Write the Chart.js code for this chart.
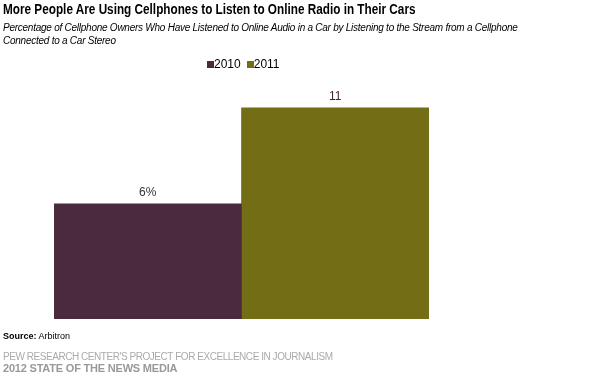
<!DOCTYPE html>
<html>
<head>
<meta charset="utf-8">
<script src="https://cdn.jsdelivr.net/npm/chart.js@4/dist/chart.umd.min.js"></script>
<style>
  body { margin: 0; background: #fff; font-family: "Liberation Sans", Arial, sans-serif; }
  #wrap { position: relative; width: 589px; height: 380px; overflow: hidden; }
  #chart { position: absolute; left: 0; top: 0; }
  .txt { position: absolute; left: 3px; white-space: nowrap; }
  #title { top: 0.5px; font-size: 14px; font-weight: bold; color: #000; transform: scaleX(0.84); transform-origin: 0 0; }
  #subtitle { top: 21px; font-size: 10px; font-style: italic; color: #000; line-height: 13px; letter-spacing: -0.25px; }
  #legend { position: absolute; top: 57px; left: 207px; font-size: 12px; color: #000; }
  #legend span.box { display: inline-block; width: 7px; height: 7px; margin-right: 0; vertical-align: 0; }
  #legend span.item { margin-right: 6px; }
  #source { top: 331px; font-size: 9px; color: #000; }
  #pew { top: 350.5px; font-size: 10px; color: #aaa; letter-spacing: -0.45px; }
  #sotnm { top: 362px; font-size: 11px; font-weight: bold; color: #999; letter-spacing: -0.2px; }
</style>
</head>
<body>
<div id="wrap">
  <canvas id="chart" width="589" height="380"></canvas>
  <div class="txt" id="title">More People Are Using Cellphones to Listen to Online Radio in Their Cars</div>
  <div class="txt" id="subtitle">Percentage of Cellphone Owners Who Have Listened to Online Audio in a Car by Listening to the Stream from a Cellphone<br>Connected to a Car Stereo</div>
  <div id="legend"></div>
  <div class="txt" id="source"><b>Source:</b> Arbitron</div>
  <div class="txt" id="pew">PEW RESEARCH CENTER'S PROJECT FOR EXCELLENCE IN JOURNALISM</div>
  <div class="txt" id="sotnm">2012 STATE OF THE NEWS MEDIA</div>
</div>
<script>
const categories = [''];
const seriesNames = ['2010', '2011'];
const values2010 = [6];
const values2011 = [11];
const valueLabels = ['6%', '11'];
const seriesColors = ['#4b2a3e', '#736d15'];
const labelColors = ['#333333', '#3d1f3a'];

// legend as html
const legend = document.getElementById('legend');
seriesNames.forEach((name, i) => {
  const item = document.createElement('span');
  item.className = 'item';
  item.innerHTML = '<span class="box" style="background:' + seriesColors[i] + '"></span>' + name;
  legend.appendChild(item);
});

const barLabels = {
  id: 'barLabels',
  afterDatasetsDraw(chart) {
    const ctx = chart.ctx;
    ctx.save();
    ctx.font = '12px "Liberation Sans", Arial, sans-serif';
    ctx.textAlign = 'center';
    ctx.textBaseline = 'bottom';
    chart.data.datasets.forEach((ds, i) => {
      chart.getDatasetMeta(i).data.forEach(bar => {
        ctx.fillStyle = labelColors[i];
        ctx.fillText(valueLabels[i], bar.x, bar.y - 5);
      });
    });
    ctx.restore();
  }
};

new Chart(document.getElementById('chart'), {
  type: 'bar',
  data: {
    labels: categories,
    datasets: [
      { label: seriesNames[0], data: values2010, backgroundColor: seriesColors[0] },
      { label: seriesNames[1], data: values2011, backgroundColor: seriesColors[1] }
    ]
  },
  options: {
    responsive: false,
    animation: false,
    layout: { padding: { left: 54, right: 160, top: 88.6, bottom: 61 } },
    datasets: { bar: { categoryPercentage: 1, barPercentage: 1 } },
    plugins: { legend: { display: false }, tooltip: { enabled: false } },
    scales: {
      x: { display: false },
      y: { display: false, min: 0, max: 12 }
    }
  },
  plugins: [barLabels]
});
</script>
</body>
</html>
